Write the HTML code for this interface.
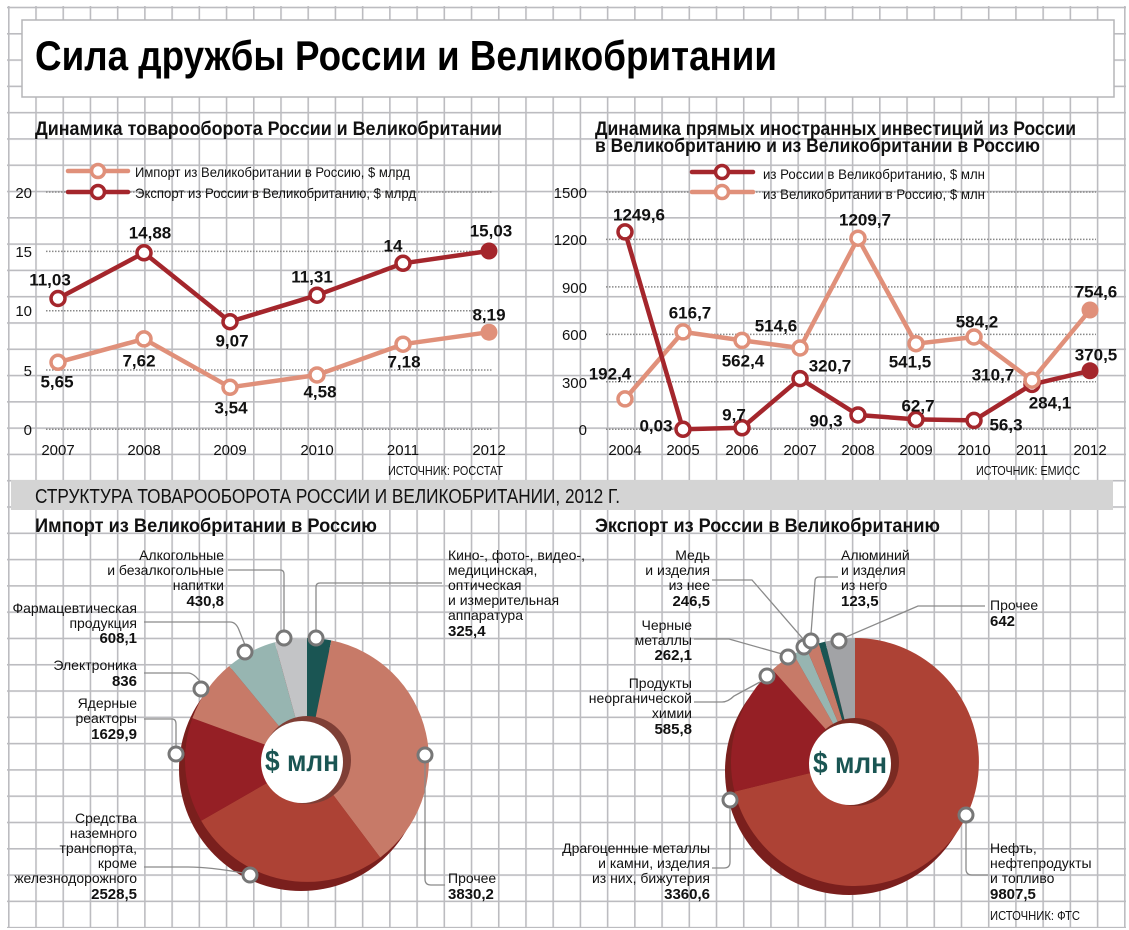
<!DOCTYPE html>
<html><head><meta charset="utf-8">
<style>
html,body{margin:0;padding:0;background:#fff;}
svg{display:block;}
text{font-family:"Liberation Sans Narrow","Liberation Sans",sans-serif;fill:#111;}
.num{font-size:17px;font-weight:bold;}
.yr{font-size:15px;}
.lbl{font-size:14px;}
.val{font-size:15px;font-weight:bold;}
.lead{fill:none;stroke:#8a8a8a;stroke-width:1.3;}
.mk{fill:#fff;stroke:#777;stroke-width:3;}
.dot{stroke:#888;stroke-width:1.5;stroke-dasharray:1.5 1.5;}
</style></head>
<body>
<svg width="1129" height="930" viewBox="0 0 1129 930" xmlns="http://www.w3.org/2000/svg">
<defs>
<pattern id="grid" x="8" y="6.7" width="27.22" height="26.29" patternUnits="userSpaceOnUse">
<line x1="0.8" y1="0" x2="0.8" y2="26.29" stroke="#bcbcc0" stroke-width="1.6"/>
<line x1="0" y1="0.8" x2="27.22" y2="0.8" stroke="#bcbcc0" stroke-width="1.6"/>
</pattern>
</defs>
<rect x="0" y="0" width="1129" height="930" fill="#fff"/>
<rect x="7" y="6" width="1119" height="922" fill="url(#grid)"/>

<rect x="22" y="20" width="1092" height="77" fill="#fff" stroke="#b5b5b8" stroke-width="1.5"/>
<text x="35" y="70" font-size="42" font-weight="bold" textLength="742" lengthAdjust="spacingAndGlyphs" style="fill:#000">Сила дружбы России и Великобритании</text>

<text x="35" y="135" font-size="19" font-weight="bold" textLength="467" lengthAdjust="spacingAndGlyphs">Динамика товарооборота России и Великобритании</text>
<text x="595" y="135" font-size="19" font-weight="bold" textLength="481" lengthAdjust="spacingAndGlyphs">Динамика прямых иностранных инвестиций из России</text>
<text x="595" y="152" font-size="19" font-weight="bold" textLength="445" lengthAdjust="spacingAndGlyphs">в Великобританию и из Великобритании в Россию</text>

<g>
<line class="dot" x1="46" y1="192" x2="493" y2="192"/>
<line class="dot" x1="46" y1="251.4" x2="493" y2="251.4"/>
<line class="dot" x1="46" y1="310.7" x2="493" y2="310.7"/>
<line class="dot" x1="46" y1="370" x2="493" y2="370"/>
<line class="dot" x1="46" y1="429.3" x2="493" y2="429.3"/>
<g class="yr" text-anchor="end">
<text x="32" y="198">20</text><text x="32" y="257">15</text><text x="32" y="316">10</text><text x="32" y="376">5</text><text x="32" y="435">0</text>
</g>
<g class="yr" text-anchor="middle">
<text x="58" y="455">2007</text><text x="144" y="455">2008</text><text x="230" y="455">2009</text><text x="317" y="455">2010</text><text x="403" y="455">2011</text><text x="489" y="455">2012</text>
</g>
<text x="388" y="475" font-size="13" textLength="115" lengthAdjust="spacingAndGlyphs">ИСТОЧНИК: РОССТАТ</text>
<line x1="68" y1="171" x2="128" y2="171" stroke="#e0907a" stroke-width="4.5" stroke-linecap="round"/>
<circle cx="98" cy="171" r="6.5" fill="#fff" stroke="#e0907a" stroke-width="3.5"/>
<line x1="68" y1="192" x2="128" y2="192" stroke="#a4262c" stroke-width="4.5" stroke-linecap="round"/>
<circle cx="98" cy="192" r="6.5" fill="#fff" stroke="#a4262c" stroke-width="3.5"/>
<text x="135" y="177" font-size="14" textLength="275" lengthAdjust="spacingAndGlyphs">Импорт из Великобритании в Россию, $ млрд</text>
<text x="135" y="198" font-size="14" textLength="281" lengthAdjust="spacingAndGlyphs">Экспорт из России в Великобританию, $ млрд</text>
<polyline fill="none" stroke="#e0907a" stroke-width="4.5" stroke-linejoin="round" points="58,362.3 144,338.9 230,387.3 317,375 403,344.2 489,332.2"/>
<circle cx="58" cy="362.3" r="7" fill="#fff" stroke="#e0907a" stroke-width="3.5"/>
<circle cx="144" cy="338.9" r="7" fill="#fff" stroke="#e0907a" stroke-width="3.5"/>
<circle cx="230" cy="387.3" r="7" fill="#fff" stroke="#e0907a" stroke-width="3.5"/>
<circle cx="317" cy="375" r="7" fill="#fff" stroke="#e0907a" stroke-width="3.5"/>
<circle cx="403" cy="344.2" r="7" fill="#fff" stroke="#e0907a" stroke-width="3.5"/>
<circle cx="489" cy="332.2" r="8.5" fill="#e0907a"/>
<polyline fill="none" stroke="#a4262c" stroke-width="4.5" stroke-linejoin="round" points="58,298.5 144,252.8 230,321.7 317,295.2 403,263.3 489,251"/>
<circle cx="58" cy="298.5" r="7" fill="#fff" stroke="#a4262c" stroke-width="3.5"/>
<circle cx="144" cy="252.8" r="7" fill="#fff" stroke="#a4262c" stroke-width="3.5"/>
<circle cx="230" cy="321.7" r="7" fill="#fff" stroke="#a4262c" stroke-width="3.5"/>
<circle cx="317" cy="295.2" r="7" fill="#fff" stroke="#a4262c" stroke-width="3.5"/>
<circle cx="403" cy="263.3" r="7" fill="#fff" stroke="#a4262c" stroke-width="3.5"/>
<circle cx="489" cy="251" r="8.5" fill="#a4262c"/>
<g class="num" text-anchor="middle" dominant-baseline="central">
<text x="50" y="280">11,03</text><text x="150" y="233">14,88</text><text x="232" y="341">9,07</text>
<text x="312" y="277">11,31</text><text x="393" y="246">14</text><text x="491" y="231">15,03</text>
<text x="57" y="382">5,65</text><text x="139" y="361">7,62</text><text x="231" y="408">3,54</text>
<text x="320" y="392">4,58</text><text x="404" y="362">7,18</text><text x="489" y="315">8,19</text>
</g>
</g>

<g>
<line class="dot" x1="606" y1="192" x2="1096" y2="192"/>
<line class="dot" x1="606" y1="239.4" x2="1096" y2="239.4"/>
<line class="dot" x1="606" y1="286.9" x2="1096" y2="286.9"/>
<line class="dot" x1="606" y1="334.4" x2="1096" y2="334.4"/>
<line class="dot" x1="606" y1="381.8" x2="1096" y2="381.8"/>
<line class="dot" x1="606" y1="429.3" x2="1096" y2="429.3"/>
<g class="yr" text-anchor="end">
<text x="587" y="198">1500</text><text x="587" y="245">1200</text><text x="587" y="293">900</text><text x="587" y="340">600</text><text x="587" y="388">300</text><text x="587" y="435">0</text>
</g>
<g class="yr" text-anchor="middle">
<text x="625" y="455">2004</text><text x="683" y="455">2005</text><text x="742" y="455">2006</text><text x="800" y="455">2007</text><text x="858" y="455">2008</text><text x="916" y="455">2009</text><text x="974" y="455">2010</text><text x="1032" y="455">2011</text><text x="1090" y="455">2012</text>
</g>
<text x="976" y="475" font-size="13" textLength="104" lengthAdjust="spacingAndGlyphs">ИСТОЧНИК: ЕМИСС</text>
<line x1="692" y1="172" x2="753" y2="172" stroke="#a4262c" stroke-width="4.5" stroke-linecap="round"/>
<circle cx="722" cy="172" r="6.5" fill="#fff" stroke="#a4262c" stroke-width="3.5"/>
<line x1="692" y1="192" x2="753" y2="192" stroke="#e0907a" stroke-width="4.5" stroke-linecap="round"/>
<circle cx="722" cy="192" r="6.5" fill="#fff" stroke="#e0907a" stroke-width="3.5"/>
<text x="763" y="179" font-size="14" textLength="222" lengthAdjust="spacingAndGlyphs">из России в Великобританию, $ млн</text>
<text x="763" y="199" font-size="14" textLength="222" lengthAdjust="spacingAndGlyphs">из Великобритании в Россию, $ млн</text>
<polyline fill="none" stroke="#e0907a" stroke-width="4.5" stroke-linejoin="round" points="625,398.9 683,331.9 742,340.4 800,348 858,238.2 916,343.7 974,337 1032,380.2 1090,310"/>
<circle cx="625" cy="398.9" r="7" fill="#fff" stroke="#e0907a" stroke-width="3.5"/>
<circle cx="683" cy="331.9" r="7" fill="#fff" stroke="#e0907a" stroke-width="3.5"/>
<circle cx="742" cy="340.4" r="7" fill="#fff" stroke="#e0907a" stroke-width="3.5"/>
<circle cx="800" cy="348" r="7" fill="#fff" stroke="#e0907a" stroke-width="3.5"/>
<circle cx="858" cy="238.2" r="7" fill="#fff" stroke="#e0907a" stroke-width="3.5"/>
<circle cx="916" cy="343.7" r="7" fill="#fff" stroke="#e0907a" stroke-width="3.5"/>
<circle cx="974" cy="337" r="7" fill="#fff" stroke="#e0907a" stroke-width="3.5"/>
<circle cx="1090" cy="310" r="8.5" fill="#e0907a"/>
<polyline fill="none" stroke="#a4262c" stroke-width="4.5" stroke-linejoin="round" points="625,231.9 683,429.3 742,427.8 800,378.6 858,415 916,419.4 974,420.4 1032,384.4 1090,370.8"/>
<circle cx="625" cy="231.9" r="7" fill="#fff" stroke="#a4262c" stroke-width="3.5"/>
<circle cx="683" cy="429.3" r="7" fill="#fff" stroke="#a4262c" stroke-width="3.5"/>
<circle cx="742" cy="427.8" r="7" fill="#fff" stroke="#a4262c" stroke-width="3.5"/>
<circle cx="800" cy="378.6" r="7" fill="#fff" stroke="#a4262c" stroke-width="3.5"/>
<circle cx="858" cy="415" r="7" fill="#fff" stroke="#a4262c" stroke-width="3.5"/>
<circle cx="916" cy="419.4" r="7" fill="#fff" stroke="#a4262c" stroke-width="3.5"/>
<circle cx="974" cy="420.4" r="7" fill="#fff" stroke="#a4262c" stroke-width="3.5"/>
<circle cx="1032" cy="384.4" r="7" fill="#fff" stroke="#a4262c" stroke-width="3.5"/>
<circle cx="1090" cy="370.8" r="8.5" fill="#a4262c"/>
<circle cx="1032" cy="380.2" r="7" fill="#fff" stroke="#e0907a" stroke-width="3.5"/>
<g class="num" text-anchor="middle" dominant-baseline="central">
<text x="639" y="215">1249,6</text><text x="656" y="426">0,03</text><text x="734" y="415">9,7</text>
<text x="830" y="366">320,7</text><text x="826" y="421">90,3</text><text x="918" y="406">62,7</text>
<text x="1006" y="425">56,3</text><text x="1050" y="403">284,1</text><text x="1096" y="355">370,5</text>
<text x="610" y="374">192,4</text><text x="690" y="313">616,7</text><text x="743" y="361">562,4</text>
<text x="776" y="326">514,6</text><text x="865" y="220">1209,7</text><text x="910" y="362">541,5</text>
<text x="977" y="322">584,2</text><text x="993" y="375">310,7</text><text x="1096" y="292">754,6</text>
</g>
</g>

<rect x="11" y="480" width="1102" height="30" fill="#d4d4d4"/>
<text x="35" y="503" font-size="20" textLength="585" lengthAdjust="spacingAndGlyphs">СТРУКТУРА ТОВАРООБОРОТА РОССИИ И ВЕЛИКОБРИТАНИИ, 2012 Г.</text>
<text x="35" y="532" font-size="19" font-weight="bold" textLength="342" lengthAdjust="spacingAndGlyphs">Импорт из Великобритании в Россию</text>
<text x="595" y="532" font-size="19" font-weight="bold" textLength="345" lengthAdjust="spacingAndGlyphs">Экспорт из России в Великобританию</text>

<circle cx="301" cy="769" r="122" fill="#7a1f1d"/>
<path d="M307,760 L307,638 A122,122 0 0 1 331.3,640.4 Z" fill="#1a5553"/>
<path d="M307,760 L331.3,640.4 A122,122 0 0 1 380.2,857.5 Z" fill="#c77a68"/>
<path d="M307,760 L380.2,857.5 A122,122 0 0 1 201.2,820.7 Z" fill="#ad4235"/>
<path d="M307,760 L201.2,820.7 A122,122 0 0 1 192.4,718.1 Z" fill="#951f25"/>
<path d="M307,760 L192.4,718.1 A122,122 0 0 1 229.2,666 Z" fill="#c77a68"/>
<path d="M307,760 L229.2,666 A122,122 0 0 1 274.8,642.3 Z" fill="#97b5b1"/>
<path d="M307,760 L274.8,642.3 A122,122 0 0 1 307,638 Z" fill="#c3c4c6"/>
<circle cx="307" cy="760" r="44" fill="#7f3f36"/>
<circle cx="302" cy="762" r="41" fill="#fff"/>
<text x="302" y="771" text-anchor="middle" font-size="30" font-weight="bold" style="fill:#1a5553" textLength="74" lengthAdjust="spacingAndGlyphs">$ млн</text>

<path class="lead" d="M228,570 H280 Q284,570 284,574 V631"/>
<path class="lead" d="M316,631 V587 Q316,583 320,583 H442"/>
<path class="lead" d="M144,622 H230 Q236,622 239,630 L245,645"/>
<path class="lead" d="M144,673 H188 Q194,673 201,683"/>
<path class="lead" d="M144,719 H172 Q176,719 176,724 V747"/>
<path class="lead" d="M144,867 H188 Q210,867 243,873"/>
<path class="lead" d="M425,762 V879 Q425,885 431,885 H445"/>
<circle class="mk" cx="284" cy="638" r="7"/>
<circle class="mk" cx="316" cy="638" r="7"/>
<circle class="mk" cx="245" cy="652" r="7"/>
<circle class="mk" cx="201" cy="689" r="7"/>
<circle class="mk" cx="176" cy="754" r="7"/>
<circle class="mk" cx="250" cy="875" r="7"/>
<circle class="mk" cx="425" cy="755" r="7"/>

<g text-anchor="end">
<text class="lbl" x="224" y="560">Алкогольные</text>
<text class="lbl" x="224" y="575">и безалкогольные</text>
<text class="lbl" x="224" y="590">напитки</text>
<text class="val" x="224" y="606">430,8</text>
<text class="lbl" x="137" y="613">Фармацевтическая</text>
<text class="lbl" x="137" y="628">продукция</text>
<text class="val" x="137" y="643">608,1</text>
<text class="lbl" x="137" y="670">Электроника</text>
<text class="val" x="137" y="686">836</text>
<text class="lbl" x="137" y="708">Ядерные</text>
<text class="lbl" x="137" y="723">реакторы</text>
<text class="val" x="137" y="739">1629,9</text>
<text class="lbl" x="137" y="823">Средства</text>
<text class="lbl" x="137" y="838">наземного</text>
<text class="lbl" x="137" y="853">транспорта,</text>
<text class="lbl" x="137" y="868">кроме</text>
<text class="lbl" x="137" y="883">железнодорожного</text>
<text class="val" x="137" y="899">2528,5</text>
</g>
<text class="lbl" x="448" y="560">Кино-, фото-, видео-,</text>
<text class="lbl" x="448" y="575">медицинская,</text>
<text class="lbl" x="448" y="590">оптическая</text>
<text class="lbl" x="448" y="605">и измерительная</text>
<text class="lbl" x="448" y="620">аппаратура</text>
<text class="val" x="448" y="636">325,4</text>
<text class="lbl" x="448" y="883">Прочее</text>
<text class="val" x="448" y="899">3830,2</text>

<circle cx="849" cy="771" r="124" fill="#7a1f1d"/>
<path d="M855,762 L855,638 A124,124 0 1 1 734.5,791.6 Z" fill="#ad4235"/>
<path d="M855,762 L734.5,791.6 A124,124 0 0 1 772.5,669.6 Z" fill="#951f25"/>
<path d="M855,762 L772.5,669.6 A124,124 0 0 1 793.5,654.3 Z" fill="#c77a68"/>
<path d="M855,762 L793.5,654.3 A124,124 0 0 1 806.3,648 Z" fill="#97b5b1"/>
<path d="M855,762 L806.3,648 A124,124 0 0 1 818.7,643.4 Z" fill="#c77a68"/>
<path d="M855,762 L818.7,643.4 A124,124 0 0 1 825.3,641.6 Z" fill="#1a5553"/>
<path d="M855,762 L825.3,641.6 A124,124 0 0 1 855,638 Z" fill="#a2a3a6"/>
<circle cx="855" cy="762" r="44" fill="#7a2a22"/>
<circle cx="850" cy="764" r="41" fill="#fff"/>
<text x="850" y="773" text-anchor="middle" font-size="30" font-weight="bold" style="fill:#1a5553" textLength="74" lengthAdjust="spacingAndGlyphs">$ млн</text>

<path class="lead" d="M712,580 H752 L804,640"/>
<path class="lead" d="M838,577 H819 Q815,577 815,581 L811,634"/>
<path class="lead" d="M985,606 H918 L846,637"/>
<path class="lead" d="M694,639 H729 L782,654"/>
<path class="lead" d="M694,702 H722 Q728,702 734,696 L760,682"/>
<path class="lead" d="M712,868 H724 Q730,868 730,862 V807"/>
<path class="lead" d="M966,822 V869 Q966,875 972,875 H988"/>
<circle class="mk" cx="839" cy="641" r="7"/>
<circle class="mk" cx="804" cy="647" r="7"/>
<circle class="mk" cx="811" cy="641" r="7"/>
<circle class="mk" cx="788" cy="657" r="7"/>
<circle class="mk" cx="767" cy="676" r="7"/>
<circle class="mk" cx="730" cy="800" r="7"/>
<circle class="mk" cx="966" cy="815" r="7"/>

<g text-anchor="end">
<text class="lbl" x="710" y="560">Медь</text>
<text class="lbl" x="710" y="575">и изделия</text>
<text class="lbl" x="710" y="590">из нее</text>
<text class="val" x="710" y="606">246,5</text>
<text class="lbl" x="692" y="630">Черные</text>
<text class="lbl" x="692" y="645">металлы</text>
<text class="val" x="692" y="660">262,1</text>
<text class="lbl" x="692" y="688">Продукты</text>
<text class="lbl" x="692" y="703">неорганической</text>
<text class="lbl" x="692" y="718">химии</text>
<text class="val" x="692" y="734">585,8</text>
<text class="lbl" x="710" y="853">Драгоценные металлы</text>
<text class="lbl" x="710" y="868">и камни, изделия</text>
<text class="lbl" x="710" y="883">из них, бижутерия</text>
<text class="val" x="710" y="899">3360,6</text>
</g>
<text class="lbl" x="841" y="560">Алюминий</text>
<text class="lbl" x="841" y="575">и изделия</text>
<text class="lbl" x="841" y="590">из него</text>
<text class="val" x="841" y="606">123,5</text>
<text class="lbl" x="990" y="610">Прочее</text>
<text class="val" x="990" y="626">642</text>
<text class="lbl" x="990" y="853">Нефть,</text>
<text class="lbl" x="990" y="868">нефтепродукты</text>
<text class="lbl" x="990" y="883">и топливо</text>
<text class="val" x="990" y="899">9807,5</text>
<text x="990" y="920" font-size="13" textLength="90" lengthAdjust="spacingAndGlyphs">ИСТОЧНИК: ФТС</text>
</svg>
</body></html>
